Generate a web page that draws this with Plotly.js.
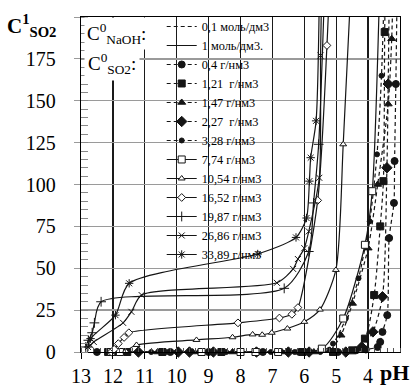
<!DOCTYPE html>
<html>
<head>
<meta charset="utf-8">
<script src="https://cdn.plot.ly/plotly-3.0.1.min.js"></script>
<style>html,body{margin:0;padding:0;background:#fff;}#chart{width:415px;height:390px;}</style>
</head>
<body>
<div id="chart"></div>
<script>
// ---- data (pH, C1 SO2) ----
// NaOH 0.1 mol/dm3 (dashed)
const pH_04   = [12.5, 10.2, 9.0, 7.3, 6.15, 4.95, 4.38, 4.07, 3.7, 3.62, 3.55, 3.4, 3.34, 3.19, 3.17, 3.13, 3.08];
const c_04    = [0, 0, 0, 0, 0, 0, 1, 1.5, 3, 6, 12, 22, 68, 89, 114, 160, 230];
const pH_121  = [12.15, 11.85, 11.55, 10.45, 8.6, 6.05, 5.1, 4.5, 4.1, 3.81, 3.62, 3.52, 3.48, 3.45];
const c_121   = [0, 0, 0, 0, 0, 0, 0, 1, 8, 34, 75, 102, 191, 230];
const pH_147  = [11.95, 10.6, 9.5, 8.25, 6.7, 5.7, 5.2, 4.85, 4.49, 4.0, 3.7, 3.37, 3.26, 3.21];
const c_147   = [0, 0, 0, 0, 0, 0, 1, 10, 29, 62, 100, 148, 187, 225];
const pH_227  = [11.2, 9.95, 9.6, 8.85, 7.5, 6.5, 5.85, 4.7, 4.2, 3.85, 3.55, 3.41, 3.37, 3.33];
const c_227   = [0, 0, 0, 0, 0, 0, 0, 0, 3, 12, 33, 110, 160, 225];
const pH_328  = [10.8, 10.35, 9.3, 8.45, 7.05, 6.3, 5.5, 5.1, 4.7, 4.3, 3.95, 3.72, 3.58, 3.48];
const c_328   = [0, 0, 0, 0, 0, 0, 0, 5, 20, 44, 78, 118, 165, 225];
// NaOH 1 mol/dm3 (solid)
const pH_774  = [12.05, 11.78, 9.22, 8.0, 7.53, 6.82, 5.45, 4.78, 4.1, 3.87, 3.62];
const c_774   = [0, 0, 0, 0, 0, 0, 2, 20, 64, 96, 230];
const pH_1054 = [11.6, 11.26, 9.38, 8.25, 7.62, 7.32, 7.02, 6.53, 6.0, 5.51, 5.01, 4.78, 4.52];
const c_1054  = [0.5, 4.2, 7.2, 8.8, 10.5, 10.3, 11.5, 14, 18, 25.3, 49, 124, 225];
const pH_1652 = [12.05, 11.96, 11.83, 11.65, 11.5, 8.08, 6.78, 6.39, 6.2, 5.58, 5.29, 5.2];
const c_1652  = [0, 1.6, 5, 8.7, 11.5, 17.4, 20.3, 22.5, 26.5, 90.5, 183, 225];
const pH_1987 = [12.85, 12.77, 12.65, 12.58, 12.37, 6.63, 5.86, 5.71, 5.55, 5.35];
const c_1987  = [3, 7, 11.5, 17.4, 30, 38, 60, 89, 124, 225];
const pH_2686 = [12.7, 12.6, 11.68, 11.42, 11.1, 6.86, 6.35, 6.2, 6.0, 5.86, 5.53, 5.49, 5.45];
const c_2686  = [4, 6, 17.4, 24, 34, 41.3, 49.6, 55.5, 62, 72, 104, 177, 225];
const pH_3389 = [12.78, 12.7, 11.92, 11.49, 7.46, 6.26, 5.93, 5.84, 5.80, 5.63, 5.52];
const c_3389  = [3, 8, 22, 41, 58.5, 68.4, 80, 102, 116, 138, 225];

const legendNaOH = ["0,1 моль/дм3", "1 моль/дм3."];
const names = ["0,4 г/нм3", "1,21  г/нм3", "1,47 г/нм3", "2,27  г/нм3", "3,28 г/нм3",
               "7,74 г/нм3", "10,54 г/нм3", "16,52 г/нм3", "19,87 г/нм3", "26,86 г/нм3", "33,89 г/нм3"];
const yTicks = [0, 25, 50, 75, 100, 125, 150, 175, 200];
const yTickText = ["0", "25", "50", "75", "100", "125", "150", "175", ""];
const xTicks = [13, 12, 11, 10, 9, 8, 7, 6, 5, 4];

// ---- styling ----
const SERIF = "Liberation Serif, Times New Roman, serif";
const INK = "#151515";
const DASH = "4px,3px";

function series(name, x, y, dashed, symbol, size, filled) {
  return {
    type: "scatter", mode: "lines+markers", name: name, x: x, y: y,
    cliponaxis: false,
    line: {color: INK, width: 1.2, dash: dashed ? DASH : "solid", shape: "spline", smoothing: 0.7},
    marker: {symbol: symbol, size: size, color: filled ? INK : "#ffffff",
             line: {color: INK, width: 1}}
  };
}
function legendOnly(name, dashed) {
  return {type: "scatter", mode: "lines", name: name, x: [null], y: [null],
          line: {color: INK, width: 1.2, dash: dashed ? DASH : "solid"}};
}

const data = [
  legendOnly(legendNaOH[0], true),
  legendOnly(legendNaOH[1], false),
  series(names[0], pH_04, c_04, true, "circle", 7, true),
  series(names[1], pH_121, c_121, true, "square", 7, true),
  series(names[2], pH_147, c_147, true, "triangle-up", 7, true),
  series(names[3], pH_227, c_227, true, "diamond", 8, true),
  series(names[4], pH_328, c_328, true, "circle", 5, true),
  series(names[5], pH_774, c_774, false, "square", 7, false),
  series(names[6], pH_1054, c_1054, false, "triangle-up", 6, false),
  series(names[7], pH_1652, c_1652, false, "diamond", 6, false),
  series(names[8], pH_1987, c_1987, false, "cross-thin-open", 7, true),
  series(names[9], pH_2686, c_2686, false, "x-thin-open", 6, true),
  series(names[10], pH_3389, c_3389, false, "asterisk-open", 7, true)
];

const layout = {
  width: 415, height: 390,
  margin: {l: 81, r: 15, t: 15, b: 38},
  paper_bgcolor: "#fff", plot_bgcolor: "#fff",
  font: {family: SERIF, color: "#000"},
  showlegend: true,
  legend: {xref: "paper", yref: "paper", x: 0.253, xanchor: "left", y: 1.015, yanchor: "top",
           maxheight: 330, bgcolor: "rgba(255,255,255,0)",
           borderwidth: 0, font: {family: SERIF, size: 12.3, color: "#000"},
           tracegroupgap: 0, itemwidth: 30},
  // white panel behind the legend that hides the grid (drawn under the traces)
  shapes: [
    {type: "rect", layer: "between", xref: "paper", yref: "paper",
     x0: 0.233, x1: 0.657, y0: 0.305, y1: 0.998,
     fillcolor: "#fff", line: {width: 0}}
  ],
  xaxis: {
    range: [13, 3], tickvals: xTicks, ticktext: xTicks.map(String),
    showgrid: true, gridcolor: "#1a1a1a", gridwidth: 1.3,
    ticks: "outside", ticklen: 6, tickcolor: "#000",
    minor: {dtick: 0.2, ticks: "inside", ticklen: 4, tickcolor: "#555", showgrid: false},
    showline: true, linecolor: "#000", linewidth: 1.2, mirror: true,
    zeroline: false, tickfont: {family: SERIF, size: 20, color: "#000"}
  },
  yaxis: {
    range: [0, 200], tickvals: yTicks, ticktext: yTickText,
    showgrid: true, gridcolor: "#9a9a9a", gridwidth: 1.3,
    ticks: "outside", ticklen: 6, tickcolor: "#9a9a9a",
    ticklabelstandoff: 14,
    minor: {dtick: 5, ticks: "inside", ticklen: 7, tickcolor: "#8a8a8a", showgrid: false},
    showline: true, linecolor: "#000", linewidth: 1.2, mirror: true,
    zeroline: false, tickfont: {family: SERIF, size: 20, color: "#000"}
  },
  annotations: [
    {xref: "paper", yref: "paper", x: -0.238, y: 0.975, xanchor: "left", yanchor: "middle",
     text: "<b>C<sup>1</sup><sub>SO2</sub></b>", showarrow: false,
     font: {family: SERIF, size: 21, color: "#000"}},
    {xref: "paper", yref: "paper", x: 0.984, y: -0.062, xanchor: "center", yanchor: "middle",
     text: "<b>pH</b>", showarrow: false, font: {family: SERIF, size: 22, color: "#000"}},
    {xref: "paper", yref: "paper", x: 0.008, y: 0.95, xanchor: "left", yanchor: "middle",
     text: "C<sup>0</sup><sub>NaOH</sub>:", showarrow: false, bgcolor: "#fff", borderpad: 2,
     font: {family: SERIF, size: 19, color: "#000"}},
    {xref: "paper", yref: "paper", x: 0.008, y: 0.86, xanchor: "left", yanchor: "middle",
     text: "C<sup>0</sup><sub>SO2</sub>:", showarrow: false, bgcolor: "#fff", borderpad: 3,
     font: {family: SERIF, size: 19, color: "#000"}}
  ]
};

Plotly.newPlot("chart", data, layout, {staticPlot: true, displayModeBar: false});
</script>
</body>
</html>
